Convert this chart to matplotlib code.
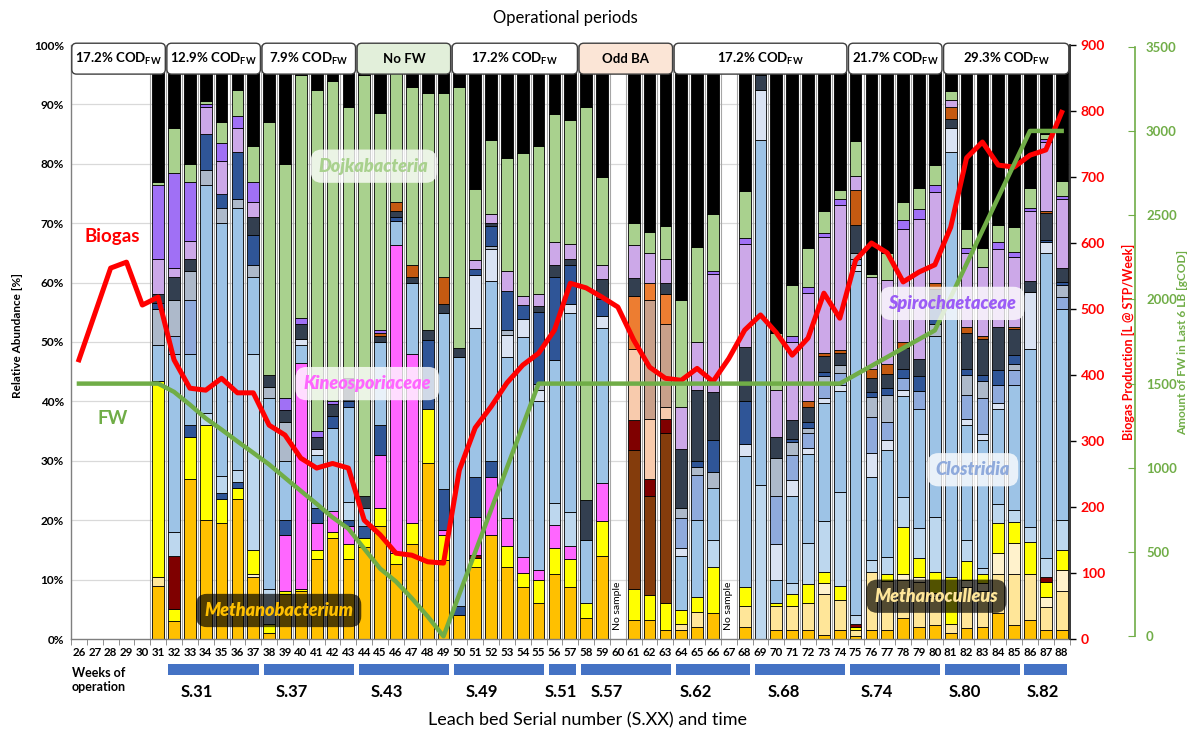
import numpy as np
import matplotlib
matplotlib.use("Agg")
import matplotlib.pyplot as plt
from matplotlib.patches import FancyBboxPatch, Rectangle
from matplotlib.transforms import blended_transform_factory

plt.rcParams['font.family'] = ['Lato', 'DejaVu Sans']
plt.rcParams['mathtext.fontset'] = 'custom'
plt.rcParams['mathtext.rm'] = 'Lato'
plt.rcParams['mathtext.bf'] = 'Lato:bold'

# ---------------- data ----------------
weeks = list(range(26, 89))
no_sample_weeks = [60, 67]
sampled_weeks = [w for w in range(31, 89) if w not in no_sample_weeks]

# relative abundance (%) per taxon group, keyed by week (remainder = black "others")
MB = {31: 9, 32: 3, 33: 27, 34: 20, 35: 19.5, 36: 23.5, 37: 10.5, 38: 1, 39: 7.5, 40: 8, 41: 13.5, 42: 17,
      43: 13.5, 44: 15.5, 45: 19, 46: 12.7, 47: 16, 48: 29.6, 49: 13.3, 50: 4, 51: 12.2, 52: 17.5, 53: 12.2,
      54: 8.8, 55: 6, 56: 11, 57: 8.8, 58: 3.6, 59: 13.9, 61: 3.2, 62: 3.2, 63: 1.5, 64: 1.5, 65: 2, 66: 4.3,
      68: 2, 70: 1.5, 71: 1.5, 72: 1.5, 73: 0.7, 74: 1.5, 75: 0.5, 76: 1.5, 77: 1.5, 78: 3.5, 79: 2, 80: 2.3,
      81: 1, 82: 1.8, 83: 2, 84: 4.3, 85: 2.4, 86: 3.2, 87: 1.5, 88: 1.5}
MC = {31: 1.5, 64: 1, 65: 2.5, 68: 3.5, 70: 4, 71: 4, 72: 4.5, 73: 6.8, 74: 5, 75: 1, 76: 9.8, 77: 8.3, 78: 6.5,
      79: 7.6, 80: 4.8, 81: 1.5, 82: 7, 83: 6, 84: 6.7, 85: 8.6, 86: 7.8, 87: 3.9, 88: 6.5}
CR = {37: 0.5, 73: 2, 78: 1, 79: 0.9, 80: 0.6, 82: 1.1, 83: 1.5, 84: 3.4, 85: 5.1, 87: 1.7, 88: 3.6}
YL = {31: 33, 32: 2, 33: 7, 34: 16, 35: 4, 36: 2, 37: 4, 38: 1.5, 39: 0.5, 40: 0.5, 41: 1.5, 42: 1, 43: 2.5,
      44: 1.5, 45: 3, 46: 1.7, 47: 3.5, 48: 9.2, 49: 4.2, 51: 1.5, 53: 3.4, 54: 2.3, 55: 3.9, 56: 4.3, 57: 4.7,
      58: 2.4, 59: 5.9, 61: 5.3, 62: 4.2, 63: 4.5, 64: 2.4, 65: 2.6, 66: 7.9, 68: 3.3, 70: 0.5, 71: 2, 72: 3.3,
      73: 1.7, 74: 2.5, 75: 0.5, 77: 1.2, 78: 7.9, 79: 3.2, 80: 3.6, 81: 8, 82: 3.3, 83: 1.5, 84: 5.1, 85: 3.6,
      86: 5.4, 87: 2.5, 88: 3.4}
BR = {61: 23.3, 62: 16.6, 63: 28.6}
DR = {32: 9, 51: 0.5, 61: 5, 62: 3, 63: 2.4, 75: 0.5, 87: 0.9}
PE = {61: 12, 62: 10, 63: 2}
TB = {62: 20, 63: 14}
OR = {61: 9, 62: 3, 63: 5}
PK = {39: 9.5, 40: 38, 41: 4.5, 42: 3.5, 43: 3, 45: 9, 46: 52, 47: 28.5, 49: 0.8, 51: 6.4, 52: 9.8, 53: 4.8,
      54: 2.7, 55: 1.7, 56: 3.9, 57: 2.2, 59: 6.5}
DBL = {33: 2, 35: 1, 36: 1, 39: 2.5, 41: 2.5, 43: 1, 44: 2, 45: 5, 49: 7, 50: 1.5, 51: 6.7, 52: 2.7}
LB2 = {32: 4, 34: 2, 35: 3, 36: 2, 37: 33, 38: 6, 43: 3, 56: 3.7, 57: 5.6, 66: 4.5, 69: 26, 71: 2, 72: 6.8,
       73: 8.6, 74: 15.7, 75: 1.5, 76: 2, 77: 2.8, 78: 5, 79: 5, 80: 9.3, 82: 3.4, 83: 1, 84: 3.3, 85: 2.1,
       86: 2.5, 87: 3.1, 88: 5}
LB = {31: 6, 32: 30, 33: 12, 34: 38.5, 35: 42.5, 36: 44, 37: 13, 38: 32, 39: 10, 40: 3, 41: 9, 42: 14, 43: 16,
      44: 3, 45: 14, 46: 4, 47: 12, 49: 29.6, 50: 42, 51: 25, 52: 30.2, 53: 27, 54: 37, 55: 28.4, 56: 24,
      57: 33.6, 58: 10.7, 59: 26, 64: 9, 65: 13, 66: 8.7, 68: 22, 69: 58, 70: 4, 71: 14.5, 72: 15, 73: 20,
      74: 17, 75: 58, 76: 14, 77: 18, 78: 17, 79: 20, 80: 30.4, 81: 71.5, 82: 19.4, 83: 21.5, 84: 16, 85: 21,
      86: 30, 87: 51.4, 88: 35.6}
WB = {40: 1, 41: 1, 51: 9, 52: 5.5, 53: 3.7, 54: 3, 55: 2, 57: 1.5, 59: 2.1, 64: 1.5, 68: 2, 69: 8.5, 70: 6,
      71: 2.8, 72: 1, 73: 0.8, 74: 1, 75: 1, 76: 4, 77: 1.7, 78: 1, 81: 4, 82: 1, 83: 1, 84: 1, 86: 9.6, 87: 1.9}
PB = {32: 3, 33: 9, 64: 5, 65: 7.5, 70: 8, 71: 4.2, 72: 2.5, 73: 2.5, 74: 2, 75: 1, 76: 6, 77: 3, 78: 2, 79: 3,
      82: 4, 83: 6, 84: 3, 85: 2.5, 88: 2}
GB = {31: 6, 32: 6, 33: 5, 34: 2.5, 35: 2.5, 36: 1.5, 37: 2, 38: 2, 39: 6.5, 52: 0.5, 53: 1, 55: 1, 64: 1.6,
      65: 1.4, 66: 2.7, 70: 6.5, 71: 2.2, 72: 1, 73: 1.1, 74: 1.5, 75: 1, 76: 3.4, 77: 4.5, 80: 2, 82: 3.5,
      83: 3, 85: 1, 88: 2}
DB = {31: 1, 34: 6, 35: 2.5, 36: 8, 37: 5, 42: 2, 43: 1, 46: 0.6, 48: 11.5, 51: 1, 52: 3.4, 53: 6.5, 54: 2.5,
      55: 12, 56: 14, 57: 6.6, 59: 2.9, 65: 1, 66: 5.4, 68: 7.3, 71: 0.5, 72: 1, 73: 0.8, 76: 0.8, 77: 1.2,
      78: 1.6, 79: 2.5, 80: 3, 82: 1, 83: 1, 84: 2.5, 85: 1.5, 87: 0.3, 88: 0.5}
DS = {31: 1.5, 32: 4, 33: 2, 37: 3, 38: 2, 39: 2, 40: 2.5, 41: 2, 42: 2, 43: 4, 44: 2, 45: 1, 46: 1, 47: 1,
      48: 1.7, 49: 1.5, 50: 1.5, 52: 0.5, 55: 1, 56: 2, 57: 1, 58: 6.7, 59: 3.3, 61: 3, 63: 2, 64: 10, 65: 12,
      66: 8, 68: 9, 69: 2.5, 70: 3.5, 71: 3.1, 72: 2.5, 73: 2.6, 74: 2, 75: 4.7, 76: 2.5, 77: 2.4, 78: 3.5,
      79: 3, 80: 3, 81: 1.6, 82: 6, 83: 6, 84: 7.3, 85: 4.4, 86: 1.8, 87: 4.5, 88: 2.4}
BRT = {45: 0.5, 46: 1.5, 47: 2, 49: 4.5, 72: 1, 73: 0.5, 74: 0.5, 75: 5.9, 76: 1.5, 77: 1.7, 78: 1, 80: 1,
       81: 2, 82: 1, 83: 0.5, 85: 0.4, 87: 0.3}
LV = {31: 6, 32: 1.5, 33: 3, 34: 4.5, 35: 5.5, 36: 4, 37: 2.5, 51: 1.5, 52: 1.5, 53: 3.3, 54: 1.5, 55: 2, 56: 4,
      57: 2.5, 59: 2.3, 61: 5.5, 62: 5, 63: 4, 64: 7, 65: 8, 66: 20, 68: 17.4, 70: 7.9, 71: 13.2, 72: 18.1,
      73: 19.6, 74: 24.3, 75: 2.4, 76: 15.5, 77: 14.2, 78: 19, 79: 23.5, 80: 15.3, 81: 1.2, 82: 12.5, 83: 11.7,
      84: 13.1, 85: 11.7, 86: 11.8, 87: 11.6, 88: 11.5}
VI = {31: 12.5, 32: 16, 33: 10, 34: 0.5, 35: 3, 36: 2, 37: 3.5, 39: 2, 40: 1, 41: 1, 42: 0.5, 45: 0.5, 66: 0.5,
      68: 1, 71: 1, 72: 1, 73: 0.6, 74: 1, 78: 1.5, 79: 1.7, 80: 1.1, 82: 0.8, 84: 1.1, 85: 0.8, 86: 0.5,
      87: 0.5, 88: 0.6}
GR = {31: 0.5, 32: 7.5, 33: 3, 34: 0.5, 35: 3.5, 36: 4.5, 37: 6, 38: 42.5, 39: 39.5, 40: 41, 41: 57.5, 42: 54,
      43: 45.5, 44: 71, 45: 36.5, 46: 22.5, 47: 30, 48: 40, 49: 31, 50: 44, 51: 12, 52: 12.4, 53: 19, 54: 24,
      55: 25, 56: 21.5, 57: 20.8, 58: 66.2, 59: 14.9, 61: 3.7, 62: 3.5, 63: 5.5, 64: 18, 65: 16, 66: 9.5,
      68: 7.9, 70: 9.6, 71: 8.6, 72: 6.6, 73: 3.7, 74: 1.6, 75: 5.8, 76: 0.5, 77: 4.5, 78: 3.1, 79: 3.5,
      80: 3.4, 81: 1.4, 82: 3.3, 83: 3.1, 84: 2.9, 85: 4.3, 86: 3.3, 87: 1, 88: 2.5}

layers = [
    (MB, "#FFC000"), (MC, "#FFE699"), (CR, "#FFF2CC"), (YL, "#FFFF00"), (BR, "#843C0C"), (DR, "#7F0000"),
    (PE, "#F8CBAD"), (TB, "#C9A08A"), (OR, "#ED7D31"), (PK, "#FF66FF"), (DBL, "#2F5597"), (LB2, "#BDD7EE"),
    (LB, "#9DC3E6"), (WB, "#DAE3F3"), (PB, "#8FAADC"), (GB, "#ADB9CA"), (DB, "#2F5597"), (DS, "#333F50"),
    (BRT, "#C55A11"), (LV, "#CCA8E8"), (VI, "#A070F5"), (GR, "#A9D18E"),
]

# biogas production (L @ STP / week)
bio_weeks = [26, 28, 29, 30, 31, 32, 33, 34, 35, 36, 37, 38, 39, 40, 41, 42, 43, 44, 45, 46, 47, 48, 49, 50,
             51, 52, 53, 54, 55, 56, 57, 58, 59, 60, 61, 62, 63, 64, 65, 66, 67, 68, 69, 70, 71, 72, 73, 74,
             75, 76, 77, 78, 79, 80, 81, 82, 83, 84, 85, 86, 87, 88]
bio_vals = [423, 562, 571, 506, 518, 423, 380, 377, 395, 373, 373, 324, 309, 274, 259, 266, 259, 180, 158, 130,
            127, 117, 115, 256, 320, 352, 388, 415, 433, 468, 539, 532, 518, 503, 453, 412, 395, 392, 410, 390,
            425, 468, 491, 464, 430, 456, 524, 486, 574, 600, 585, 541, 556, 567, 624, 729, 753, 718, 715, 733,
            741, 798]

# amount of FW in last 6 LB (gCOD)
fw_weeks = [26, 31, 32, 33, 34, 35, 36, 37, 38, 39, 40, 41, 42, 43, 44, 45, 46, 47, 48, 49, 55, 74, 80, 86, 88]
fw_vals = [1500, 1500, 1451, 1375, 1294, 1227, 1157, 1089, 1020, 941, 863, 786, 706, 639, 520, 402, 325, 226,
           118, 0, 1500, 1500, 1816, 3000, 3000]

# operational periods (header)
period_labels = [r"17.2% COD$_{\mathbf{FW}}$", r"12.9% COD$_{\mathbf{FW}}$", r"7.9% COD$_{\mathbf{FW}}$",
                 "No FW", r"17.2% COD$_{\mathbf{FW}}$", "Odd BA", r"17.2% COD$_{\mathbf{FW}}$",
                 r"21.7% COD$_{\mathbf{FW}}$", r"29.3% COD$_{\mathbf{FW}}$"]
period_start = [26, 32, 38, 44, 50, 58, 64, 75, 81]
period_end = [31, 37, 43, 49, 57, 63, 74, 80, 88]
period_fill = ["white", "white", "white", "#E2EFDA", "white", "#FBE5D6", "white", "white", "white"]

# leach bed serial numbers (bottom)
lb_labels = ["S.31", "S.37", "S.43", "S.49", "S.51", "S.57", "S.62", "S.68", "S.74", "S.80", "S.82"]
lb_start = [32, 38, 44, 50, 56, 58, 64, 69, 75, 81, 86]
lb_end = [37, 43, 49, 55, 57, 63, 68, 74, 80, 85, 88]
lb_label_x = [33.44, 39.44, 45.43, 51.43, 56.41, 59.31, 64.93, 70.48, 76.35, 81.9, 86.82]

# ---------------- figure ----------------
W, H = 1193, 733
fig = plt.figure(figsize=(W / 100, H / 100), dpi=100)
ax = fig.add_axes([71 / W, 1 - 639 / H, (1069.6 - 71) / W, (639 - 45) / H])
ax.set_xlim(25.5, 88.5)
ax.set_ylim(0, 100)

# grid + separators
for yv in range(10, 100, 10):
    ax.axhline(yv, color="#D9D9D9", lw=0.9, zorder=0)
for b in np.arange(30.5, 88.6, 1):
    ax.plot([b, b], [0, 100], color="#A6A6A6", lw=0.8, zorder=1)

# stacked bars
bar_w = 0.74
bottom = {w: 0.0 for w in weeks}
for vals, color in layers:
    xs = [w for w in sampled_weeks if vals.get(w, 0) > 0]
    hs = [vals[w] for w in xs]
    bs = [bottom[w] for w in xs]
    ax.bar(xs, hs, bottom=bs, width=bar_w, color=color, edgecolor="black", linewidth=0.6, zorder=2)
    for w, h in zip(xs, hs):
        bottom[w] += h
rest_x = [w for w in sampled_weeks if bottom[w] < 100]
ax.bar(rest_x, [100 - bottom[w] for w in rest_x], bottom=[bottom[w] for w in rest_x], width=bar_w,
       color="black", edgecolor="black", linewidth=0.6, zorder=2)

for w in no_sample_weeks:
    ax.text(w, 1.5, "No sample", rotation=90, ha="center", va="bottom", fontsize=7.5, zorder=3)

# axes styling
ax.set_yticks(range(0, 101, 10))
ax.set_yticklabels([f"{v}%" for v in range(0, 101, 10)], fontsize=8.5, fontweight="bold")
ax.tick_params(axis="y", length=0, pad=5)
ax.set_xticks(weeks)
ax.set_xticklabels([str(w) for w in weeks], fontsize=8.3, fontweight="bold")
ax.tick_params(axis="x", which="major", length=0, pad=6)
ax.set_xticks(np.arange(25.5, 88.6, 1), minor=True)
ax.tick_params(axis="x", which="minor", length=4, color="#7F7F7F")
for s in ["top", "right"]:
    ax.spines[s].set_visible(False)
for s in ["left", "bottom"]:
    ax.spines[s].set_color("#7F7F7F")
    ax.spines[s].set_linewidth(1)

# biogas axis
ax2 = ax.twinx()
ax2.set_ylim(0, 900)
ax2.plot(bio_weeks, bio_vals, color="#FF0000", lw=3.6, solid_joinstyle="round", zorder=3)
ax2.set_yticks(range(0, 901, 100))
ax2.set_yticklabels([str(v) for v in range(0, 901, 100)], color="#FF0000", fontsize=10, fontweight="bold")
ax2.tick_params(axis="y", length=4, width=1, color="black", pad=4)
ax2.set_ylabel("Biogas Production [L @ STP/Week]", color="#FF0000", fontsize=9, fontweight="bold",
               labelpad=12)
for s in ["top", "left", "bottom"]:
    ax2.spines[s].set_visible(False)
ax2.spines["right"].set_color("#262626")
ax2.spines["right"].set_linewidth(1.3)

# FW axis
ax3 = ax.twinx()
ax3.set_ylim(-16, 3510)
ax3.spines["right"].set_position(("outward", 47))
ax3.spines["right"].set_bounds(0, 3500)
ax3.spines["right"].set_color("#70AD47")
ax3.spines["right"].set_linewidth(1.2)
for s in ["top", "left", "bottom"]:
    ax3.spines[s].set_visible(False)
ax3.plot(fw_weeks, fw_vals, color="#70AD47", lw=3.2, solid_joinstyle="round", zorder=3)
ax3.set_yticks(range(0, 3501, 500))
ax3.set_yticklabels([str(v) for v in range(0, 3501, 500)], color="#70AD47", fontsize=9.5,
                    fontweight="bold")
ax3.tick_params(axis="y", direction="in", length=5, color="#70AD47", pad=8)
ax3.set_ylabel("Amount of FW in Last 6 LB [gCOD]", color="#70AD47", fontsize=8.5, fontweight="bold",
               labelpad=0)

T = ax.transData
# header boxes
for lab, s, e, fc in zip(period_labels, period_start, period_end, period_fill):
    x0, x1 = s - 0.5 + 0.05, e + 0.5 - 0.05
    box = FancyBboxPatch((x0, 95.1), x1 - x0, 5.2, boxstyle="round,pad=0,rounding_size=0.3",
                         mutation_aspect=2.67, transform=T, facecolor=fc, edgecolor="#404040", lw=1,
                         clip_on=False, zorder=8)
    ax3.add_patch(box)
    ax3.text((x0 + x1) / 2, 97.6, lab, transform=T, ha="center", va="center", fontsize=9.5,
             fontweight="bold", zorder=9, clip_on=False)

# taxon annotations
def tag(x, y, s, color, dark):
    fc = "black" if dark else "white"
    al = 0.68 if dark else 0.78
    ax3.text(x, y, s, transform=T, ha="center", va="center", fontsize=13, fontweight="heavy",
             style="italic", color=color, zorder=10,
             bbox=dict(boxstyle="round,pad=0.45,rounding_size=0.6", fc=fc, ec="none", alpha=al))

tag(44.6, 79.6, "Dojkabacteria", "#A9D18E", False)
tag(44.2, 43.0, "Kineosporiaceae", "#FF66FF", False)
tag(38.6, 4.8, "Methanobacterium", "#FFC000", True)
tag(81.1, 56.5, "Spirochaetaceae", "#9B5CF6", False)
tag(82.4, 28.5, "Clostridia", "#8FAADC", False)
tag(80.1, 7.2, "Methanoculleus", "#FFE699", True)

ax3.text(28.1, 67.7, "Biogas", transform=T, ha="center", va="center", fontsize=13.5, fontweight="bold",
         color="#FF0000", zorder=10)
ax3.text(28.1, 37.2, "FW", transform=T, ha="center", va="center", fontsize=13.5, fontweight="bold",
         color="#70AD47", zorder=10)

# bottom annotations
bt = blended_transform_factory(ax.transData, fig.transFigure)
for lab, s, e, xl in zip(lb_labels, lb_start, lb_end, lb_label_x):
    r = Rectangle((s - 0.5 + 0.15, 1 - 675 / H), (e - s + 1) - 0.3, 11 / H, transform=bt,
                  facecolor="#4472C4", edgecolor="none", clip_on=False)
    fig.add_artist(r)
    fig.text(xl, 1 - 692 / H, lab, transform=bt, ha="center", va="center", fontsize=12, fontweight="bold")

fig.text(72 / W, 1 - 680 / H, "Weeks of\noperation", ha="left", va="center", fontsize=9, fontweight="bold",
         linespacing=1.25)
fig.text(587 / W, 1 - 720 / H, "Leach bed Serial number (S.XX) and time", ha="center", va="center",
         fontsize=13)
fig.text(565 / W, 1 - 18 / H, "Operational periods", ha="center", va="center", fontsize=12)
fig.text(18 / W, 1 - 335 / H, "Relative Abundance [%]", rotation=90, ha="center", va="center", fontsize=8.5,
         fontweight="bold")

fig.savefig("out.png", dpi=100)
